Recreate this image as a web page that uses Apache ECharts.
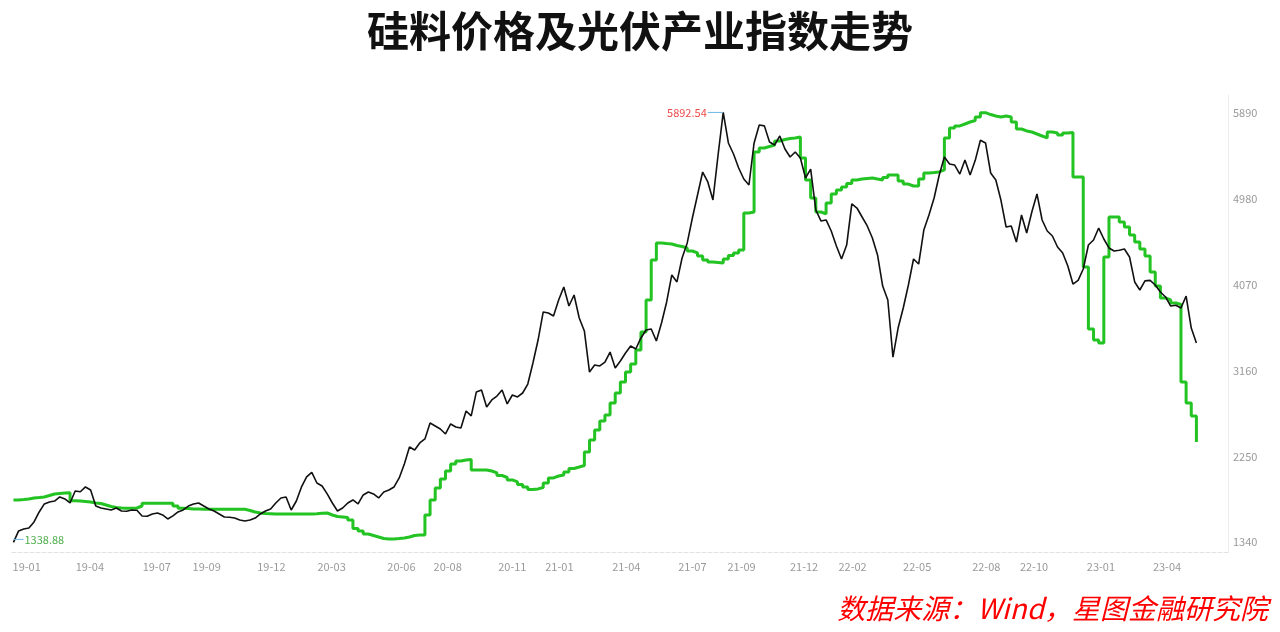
<!DOCTYPE html>
<html>
<head>
<meta charset="utf-8">
<script src="https://cdn.jsdelivr.net/npm/echarts@6/dist/echarts.min.js"></script>
<style>html,body{margin:0;padding:0;background:#fff;}#c{width:1280px;height:632px;}</style>
</head>
<body>
<div id="c"></div>
<script>
// ---- data (weekly readings, first week ending 2019-01-04) ----
const startDate = '2019-01-04';
const stepDays = 7;
const titleText = '硅料价格及光伏产业指数走势';
const sourceText = '数据来源：Wind，星图金融研究院';
// 光伏产业指数
const pvIndex = [1338.88,1460,1481,1491,1555,1661,1746,1767,1777,1820,
1799,1756,1883,1875,1926,1894,1724,1703,1693,1682,
1703,1671,1668,1682,1679,1619,1616,1640,1650,1629,
1587,1619,1661,1682,1724,1746,1756,1724,1693,1671,
1640,1608,1605,1597,1576,1566,1576,1597,1640,1671,
1693,1756,1809,1820,1682,1777,1926,2032,2080,1968,
1936,1852,1756,1671,1703,1756,1788,1746,1841,1873,
1852,1809,1873,1894,1926,2021,2169,2349,2317,2392,
2434,2603,2572,2540,2487,2593,2561,2550,2730,2678,
2932,2953,2773,2847,2889,2953,2805,2900,2879,2921,
3016,3239,3482,3779,3768,3737,3906,4044,3842,3959,
3715,3578,3143,3218,3207,3249,3355,3186,3260,3345,
3419,3387,3504,3588,3599,3472,3662,3885,4171,4097,
4351,4510,4774,5018,5261,5156,4965,5442,5892.54,5569,
5452,5304,5187,5124,5569,5759,5750,5579,5548,5643,
5505,5420,5473,5410,5198,5293,4859,4743,4754,4637,
4478,4340,4488,4923,4880,4785,4690,4563,4383,4054,
3906,3300,3609,3821,4065,4340,4287,4647,4806,4986,
5230,5420,5346,5335,5240,5388,5230,5385,5598,5569,
5251,5177,4962,4679,4690,4520,4806,4615,4838,5029,
4753,4637,4584,4467,4404,4266,4075,4114,4234,4488,
4541,4668,4552,4457,4425,4432,4446,4361,4097,4012,
4108,4114,4065,3991,3938,3842,3850,3821,3948,3609,
3451];
// 硅料价格（按图中右轴刻度读数）
const siliconPrice = [1788,1793,1799,1809,1814,1820,1836,1851,1857,1862,
1865,1781,1777,1772,1767,1756,1751,1735,1719,1709,
1703,1700,1700,1703,1724,1753,1753,1753,1753,1753,
1753,1724,1700,1698,1693,1693,1689,1689,1689,1689,
1689,1689,1689,1689,1689,1677,1661,1650,1645,1643,
1640,1640,1640,1640,1640,1640,1640,1640,1643,1648,
1650,1629,1613,1608,1603,1576,1486,1460,1428,1412,
1396,1380,1375,1375,1380,1386,1396,1412,1417,1417,
1629,1788,1915,2010,2095,2169,2201,2212,2217,2106,
2106,2106,2095,2074,2047,2026,2000,1979,1952,1926,
1899,1905,1920,1968,2021,2042,2053,2084,2122,2137,
2153,2296,2423,2529,2625,2688,2815,2921,3038,3143,
3228,3376,3567,3906,4330,4510,4504,4499,4483,4473,
4457,4425,4404,4372,4330,4308,4303,4298,4340,4377,
4404,4435,4827,4838,5473,5516,5532,5547,5590,5606,
5616,5622,5632,5410,5177,4986,4838,4817,4933,5029,
5071,5103,5140,5177,5187,5193,5198,5187,5177,5203,
5230,5230,5166,5134,5113,5113,5187,5251,5256,5262,
5283,5622,5727,5749,5770,5791,5807,5844,5890,5870,
5855,5844,5855,5844,5791,5717,5696,5685,5664,5643,
5622,5685,5675,5653,5675,5680,5209,5209,4255,3599,
3482,3451,4361,4785,4785,4732,4679,4594,4520,4446,
4372,4202,4054,3927,3906,3874,3858,3038,2815,2678,
2402];
// axis
const xMin = '2019-01-02';
const xMax = '2023-07-15';
const xTickDates = ['2019-01-22','2019-04-18','2019-07-18','2019-09-24','2019-12-21','2020-03-12','2020-06-15','2020-08-17','2020-11-13','2021-01-16','2021-04-17','2021-07-16','2021-09-21','2021-12-15','2022-02-19','2022-05-18','2022-08-20','2022-10-24','2023-01-23','2023-04-23'];
const yMin = 1237, yMax = 6077;
const yTicks = [1340, 2250, 3160, 4070, 4980, 5890];

function toTime(s){ const p = s.split('-').map(Number); return new Date(p[0], p[1]-1, p[2]).getTime(); }
const s0 = startDate.split('-').map(Number);
function weekTime(i){ return new Date(s0[0], s0[1]-1, s0[2] + stepDays*i).getTime(); }
const pvData = pvIndex.map((v,i)=>[weekTime(i), v]);
const siData = siliconPrice.map((v,i)=>[weekTime(i), v]);

const FONT = '"Noto Sans CJK SC","Noto Sans",sans-serif';
const chart = echarts.init(document.getElementById('c'));
chart.setOption({
  animation:false,
  backgroundColor:'#fff',
  textStyle:{fontFamily:FONT},
  title:{text:titleText,left:'center',top:5,textStyle:{fontSize:42,fontWeight:'bold',color:'#111',fontFamily:FONT}},
  graphic:[{type:'text',right:12,top:594,style:{text:sourceText,fill:'#ff0000',font:'italic 28px '+FONT}}],
  grid:{left:12,right:52,top:95,bottom:80},
  xAxis:{type:'value',min:toTime(xMin),max:toTime(xMax),
    axisLine:{show:true,onZero:false,lineStyle:{color:'#e2e2e2',type:'dashed',width:1}},
    axisTick:{show:false},splitLine:{show:false},
    axisLabel:{customValues:xTickDates.map(toTime),color:'#9a9a9a',fontSize:11,margin:9,
      formatter:function(v){const d=new Date(v);return String(d.getFullYear()).slice(2)+'-'+String(d.getMonth()+1).padStart(2,'0');}}},
  yAxis:{type:'value',position:'right',min:yMin,max:yMax,
    axisLine:{show:true,lineStyle:{color:'#ececec'}},axisTick:{show:false},splitLine:{show:false},
    axisLabel:{customValues:yTicks,color:'#9a9a9a',fontSize:11,margin:5,formatter:function(v){return String(v);}}},
  series:[
    {name:'硅料价格',type:'line',data:siData,step:'end',symbol:'none',
      lineStyle:{color:'#22c322',width:3},z:2},
    {name:'光伏产业指数',type:'line',data:pvData,symbol:'none',
      lineStyle:{color:'#111',width:1.6},z:3,
      markPoint:{symbol:'rect',symbolSize:[15,1],itemStyle:{color:'#6ab8e6'},
        label:{fontSize:11,formatter:function(p){return p.value;}},
        data:[
          {type:'max',valueDim:'y',symbolOffset:[-8,0],label:{position:'left',distance:1,color:'#f04a4a'}},
          {type:'min',valueDim:'y',symbolSize:[10,1],symbolOffset:[5,-3],label:{position:'right',distance:1,color:'#4cae4c'}}
        ]}}
  ]
});
</script>
</body>
</html>
